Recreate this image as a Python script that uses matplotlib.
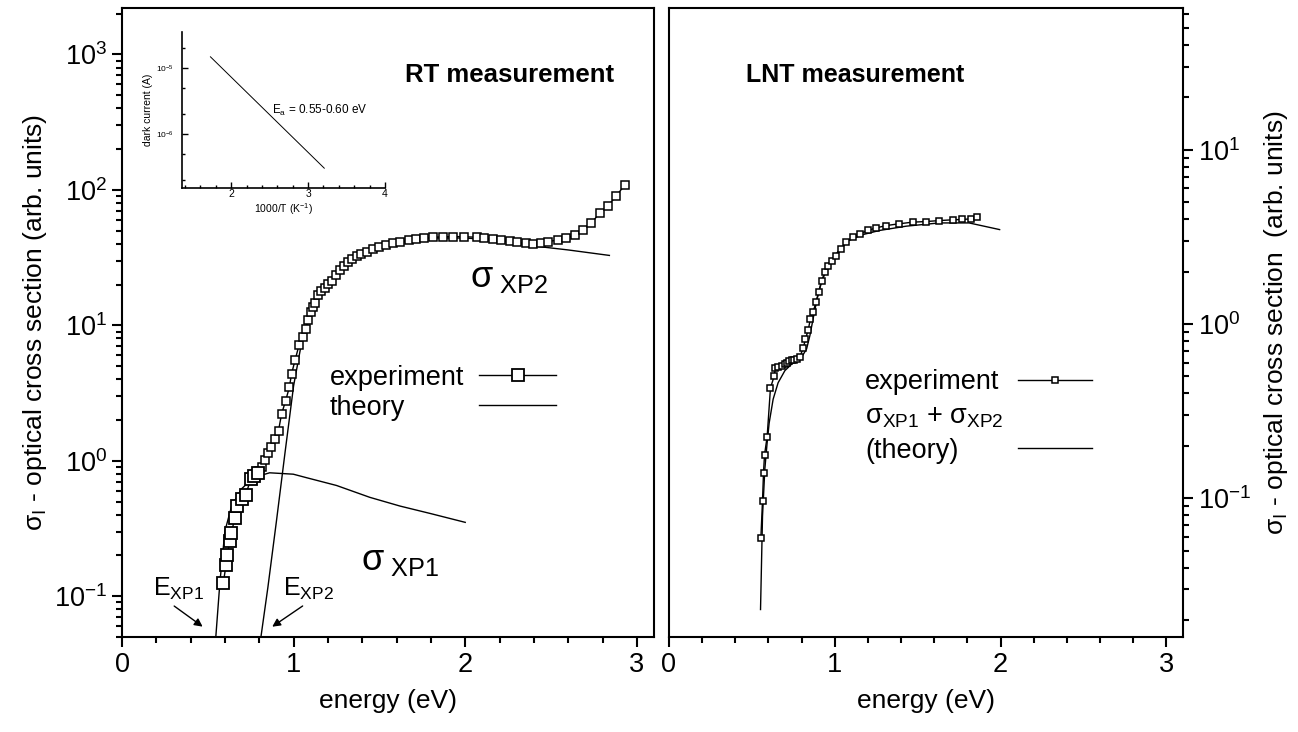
import numpy as np
import matplotlib.pyplot as plt
from matplotlib.lines import Line2D
from matplotlib.ticker import MultipleLocator, LogLocator, NullFormatter

plt.rcParams['font.family'] = ['Liberation Sans', 'DejaVu Sans']
plt.rcParams['mathtext.fontset'] = 'custom'
plt.rcParams['mathtext.rm'] = 'Liberation Sans'
plt.rcParams['mathtext.it'] = 'Liberation Sans'
plt.rcParams['mathtext.bf'] = 'Liberation Sans:bold'
plt.rcParams['axes.linewidth'] = 1.5

# --- RT measurement (left panel) ---
# experiment, low-energy run (big squares)
rt_e_low = [0.59, 0.606, 0.613, 0.63, 0.635, 0.66, 0.672, 0.70, 0.72, 0.75, 0.77, 0.79]
rt_s_low = [0.125, 0.169, 0.203, 0.257, 0.294, 0.378, 0.462, 0.518, 0.556, 0.731, 0.769, 0.815]
# experiment, main run (small squares)
rt_e = [0.80, 0.815, 0.835, 0.852, 0.87, 0.891, 0.912, 0.93, 0.953, 0.975, 0.988,
        1.008, 1.031, 1.052, 1.072, 1.086, 1.10, 1.112, 1.124, 1.143, 1.162, 1.182,
        1.20, 1.221, 1.245, 1.27, 1.295, 1.318, 1.34, 1.367, 1.395, 1.425, 1.46,
        1.50, 1.54, 1.58, 1.62, 1.67, 1.716, 1.76, 1.813, 1.87, 1.93, 1.99, 2.066,
        2.11, 2.16, 2.21, 2.26, 2.30, 2.357, 2.395, 2.44, 2.48, 2.54, 2.59, 2.64,
        2.687, 2.735, 2.784, 2.832, 2.88, 2.93]
rt_s = [0.84, 0.906, 1.01, 1.14, 1.26, 1.45, 1.67, 2.22, 2.76, 3.48, 4.38,
        5.5, 7.1, 8.18, 9.47, 10.97, 12.6, 13.65, 14.6, 16.7, 17.86, 18.74,
        20.06, 21.4, 23.6, 25.5, 27.6, 29.5, 31.1, 32.5, 33.7, 35.0, 36.3,
        38.1, 39.4, 40.7, 41.5, 42.4, 43.2, 44.1, 44.7, 45.0, 45.2, 45.1, 44.7,
        44.1, 43.2, 42.5, 41.9, 41.0, 40.3, 39.7, 40.6, 41.5, 42.6, 43.9, 46.4,
        50.6, 57.1, 67.2, 76.1, 90.3, 108.6]
# theory curves
xp1_e = [0.545, 0.571, 0.60, 0.639, 0.697, 0.765, 0.86, 0.998, 1.075, 1.25, 1.444, 1.62, 1.8, 2.0]
xp1_s = [0.047, 0.129, 0.304, 0.463, 0.621, 0.75, 0.815, 0.796, 0.75, 0.657, 0.537, 0.463, 0.407, 0.351]
xp2_e = [0.80, 0.85, 0.90, 0.95, 1.0, 1.05, 1.1, 1.15, 1.2, 1.3, 1.4, 1.5, 1.6, 1.8, 2.0,
         2.2, 2.4, 2.6, 2.84]
xp2_s = [0.041, 0.116, 0.359, 1.15, 3.58, 7.86, 12.35, 16.6, 20.4, 28.1, 34.1, 38.0, 40.6,
         44.1, 44.1, 42.4, 38.5, 36.0, 32.8]

# --- LNT measurement (right panel) ---
lnt_e = [0.554, 0.564, 0.57, 0.576, 0.592, 0.612, 0.634, 0.642, 0.66, 0.68, 0.70, 0.71,
         0.725, 0.74, 0.755, 0.77, 0.79, 0.81, 0.823, 0.839, 0.853, 0.869, 0.886, 0.902,
         0.92, 0.94, 0.96, 0.986, 1.01, 1.04, 1.07, 1.11, 1.15, 1.2, 1.25, 1.31, 1.39,
         1.47, 1.55, 1.63, 1.71, 1.77, 1.82, 1.86]
lnt_s = [0.059, 0.097, 0.14, 0.177, 0.226, 0.43, 0.50, 0.56, 0.57, 0.575, 0.59, 0.60,
         0.61, 0.62, 0.625, 0.63, 0.65, 0.73, 0.82, 0.92, 1.07, 1.17, 1.33, 1.52,
         1.77, 1.98, 2.16, 2.31, 2.47, 2.70, 2.95, 3.15, 3.29, 3.44, 3.56, 3.67, 3.76,
         3.84, 3.87, 3.92, 3.96, 3.98, 4.01, 4.1]
lnt_th_e = [0.552, 0.564, 0.578, 0.592, 0.604, 0.628, 0.658, 0.699, 0.749, 0.80, 0.83,
            0.85, 0.869, 0.893, 0.92, 0.964, 1.024, 1.084, 1.165, 1.27, 1.43, 1.63,
            1.81, 1.994]
lnt_th_s = [0.023, 0.079, 0.147, 0.209, 0.27, 0.37, 0.46, 0.54, 0.60, 0.645, 0.72,
            0.86, 1.07, 1.39, 1.74, 2.21, 2.64, 3.01, 3.25, 3.44, 3.64, 3.80,
            3.8, 3.48]

# --- inset: dark current vs 1000/T ---
inv_t = [1.73, 3.21]
dark_i = [1.47e-5, 3.0e-7]

W, H = 1298, 732
fig = plt.figure(figsize=(W / 100, H / 100), dpi=100)
ax1 = fig.add_axes([122 / W, 1 - 637 / H, 532 / W, 629 / H])
ax2 = fig.add_axes([669 / W, 1 - 637 / H, 514 / W, 629 / H])


def setup(ax):
    ax.set_yscale('log')
    ax.set_xlim(0, 3.1)
    ax.xaxis.set_major_locator(MultipleLocator(1))
    ax.xaxis.set_minor_locator(MultipleLocator(0.2))
    ax.yaxis.set_minor_locator(LogLocator(base=10, subs=np.arange(2, 10), numticks=30))
    ax.yaxis.set_minor_formatter(NullFormatter())
    ax.tick_params(which='both', direction='out', width=1.5, labelsize=19.5, top=False)
    ax.tick_params(which='major', length=7)
    ax.tick_params(which='minor', length=4)
    ax.set_xlabel('energy (eV)', fontsize=19, labelpad=8)


def left_align(leg):
    # text left-aligned, handles kept in one column on the right
    fig.canvas.draw()
    col = leg._legend_handle_box.get_children()[0]
    col.align = 'left'
    widths = [t.get_window_extent().width * 72 / fig.dpi for t in leg.get_texts()]
    for item, w in zip(col.get_children(), widths):
        item.sep += max(widths) - w


setup(ax1)
setup(ax2)
ax1.set_ylim(0.05, 2200)
ax1.tick_params(which='both', right=False)
ax2.set_ylim(0.016, 65)
ax2.yaxis.tick_right()
ax2.yaxis.set_label_position('right')
ax2.tick_params(which='both', left=False)

mk = dict(marker='s', mfc='white', mec='black', color='black', lw=1.0)

# left panel
ax1.plot(xp1_e, xp1_s, color='black', lw=1.0, zorder=2)
th_line, = ax1.plot(xp2_e, xp2_s, color='black', lw=1.0, zorder=2)
ax1.plot(rt_e, rt_s, ms=5.5, mew=1.1, zorder=3, **mk)
exp_big, = ax1.plot(rt_e_low, rt_s_low, ms=8.5, mew=1.3, zorder=3, **mk)
ax1.set_ylabel(r'$\mathregular{σ_I}$ - optical cross section (arb. units)', fontsize=19)
leg1 = ax1.legend([exp_big, th_line], ['experiment', 'theory'], loc='upper left',
                  bbox_to_anchor=(0.391, 0.433), markerfirst=False, frameon=False,
                  fontsize=19.5, handlelength=2.84, handletextpad=0.55, labelspacing=0.15,
                  borderpad=0, borderaxespad=0)
ax1.text(0.728, 0.893, 'RT measurement', transform=ax1.transAxes, ha='center',
         va='center', fontsize=18.5, fontweight='bold')
ax1.text(2.03, 22.5, r'$\mathregular{σ_{\ XP2}}$', fontsize=26, ha='left', va='center')
ax1.text(1.39, 0.182, r'$\mathregular{σ_{\ XP1}}$', fontsize=26, ha='left', va='center')

arrow = dict(arrowstyle='-|>', color='black', lw=1.0, mutation_scale=12)
ax1.annotate('', xy=(0.483, 0.058), xytext=(0.291, 0.087), arrowprops=arrow)
ax1.annotate('', xy=(0.862, 0.058), xytext=(1.066, 0.087), arrowprops=arrow)
ax1.text(0.18, 0.09, r'$\mathregular{E_{XP1}}$', fontsize=18, ha='left', va='bottom')
ax1.text(0.94, 0.09, r'$\mathregular{E_{XP2}}$', fontsize=18, ha='left', va='bottom')

# right panel
th2, = ax2.plot(lnt_th_e, lnt_th_s, color='black', lw=1.0, zorder=2)
exp2, = ax2.plot(lnt_e, lnt_s, ms=5, mew=1.1, zorder=3, **mk)
ax2.set_ylabel(r'$\mathregular{σ_I}$ - optical cross section  (arb. units)', fontsize=19,
               labelpad=8)
blank = Line2D([], [], linestyle='none')
leg2 = ax2.legend([exp2, blank, th2],
                  ['experiment', r'$\mathregular{σ_{XP1}}$ + $\mathregular{σ_{XP2}}$', '(theory)'],
                  loc='upper left', bbox_to_anchor=(0.382, 0.426), markerfirst=False,
                  frameon=False, fontsize=19.5, handlelength=2.73, handletextpad=0.52,
                  labelspacing=0.3, borderpad=0, borderaxespad=0)
ax2.text(0.362, 0.893, 'LNT measurement', transform=ax2.transAxes, ha='center',
         va='center', fontsize=18, fontweight='bold')

# inset
ins = fig.add_axes([182 / W, 1 - 188 / H, 203 / W, 156 / H])
ins.set_facecolor('none')
ins.plot(inv_t, dark_i, color='black', lw=0.7)
ins.set_yscale('log')
ins.set_xlim(1.36, 4.0)
ins.set_ylim(1.5e-7, 3.5e-5)
ins.spines['top'].set_visible(False)
ins.spines['right'].set_visible(False)
ins.spines['left'].set_linewidth(1.2)
ins.spines['bottom'].set_linewidth(1.2)
ins.xaxis.set_major_locator(MultipleLocator(1))
ins.xaxis.set_minor_locator(MultipleLocator(0.2))
ins.yaxis.set_minor_locator(LogLocator(base=10, subs=(2, 5), numticks=30))
ins.yaxis.set_minor_formatter(NullFormatter())
ins.tick_params(which='both', direction='in', width=1.0)
ins.tick_params(which='major', length=4)
ins.tick_params(which='minor', length=2.5)
ins.tick_params(axis='x', labelsize=7.5, pad=1)
ins.tick_params(axis='y', labelsize=6, pad=6)
ins.set_xlabel(r'1000/T (K$\mathregular{^{-1}}$)', fontsize=7.5, labelpad=1)
ins.set_ylabel('dark current (A)', fontsize=7.5, labelpad=2)
ins.text(2.53, 10 ** -5.64, r'$\mathregular{E_a}$ = 0.55-0.60 eV', fontsize=8.5,
         ha='left', va='center')

left_align(leg1)
left_align(leg2)

fig.savefig('out.png', dpi=100)
